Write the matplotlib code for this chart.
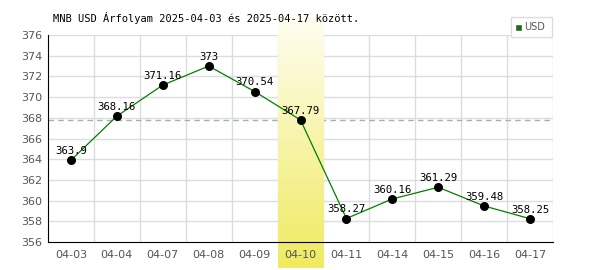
import numpy as np
import matplotlib.pyplot as plt
from matplotlib.colors import LinearSegmentedColormap

dates = ["04-03", "04-04", "04-07", "04-08", "04-09", "04-10",
         "04-11", "04-14", "04-15", "04-16", "04-17"]
usd = [363.9, 368.16, 371.16, 373, 370.54, 367.79,
       358.27, 360.16, 361.29, 359.48, 358.25]
labels = ["363.9", "368.16", "371.16", "373", "370.54", "367.79",
          "358.27", "360.16", "361.29", "359.48", "358.25"]
highlight = 5
title = "MNB USD Árfolyam 2025-04-03 és 2025-04-17 között."

fig = plt.figure(figsize=(6, 2.7), dpi=100)
ax = fig.add_axes([48 / 600, 1 - 242 / 270, 505 / 600, 207 / 270])

x = np.arange(len(dates))
ax.set_xlim(-0.5, len(dates) - 0.5)
ax.set_ylim(356, 376)

# gradient band over the grid for the highlighted day
cmap = LinearSegmentedColormap.from_list("band", ["#fefef2", "#f0ea60"])
grad = np.linspace(0, 1, 256).reshape(-1, 1)
ax.imshow(grad, cmap=cmap, aspect="auto", origin="upper",
          extent=(highlight - 0.5, highlight + 0.5, 356 - 26 / 10.35, 376 + 18 / 10.35),
          clip_on=False, zorder=2.2)

for v in np.arange(358, 377, 2):
    ax.axhline(v, color="#dddddd", lw=1, zorder=1)
for i in range(len(dates)):
    ax.axvline(i + 0.5, color="#dddddd", lw=1, zorder=1)

ax.axhline(usd[highlight], color="#99bb99", lw=1, ls=(0, (4, 3)), zorder=2)

ax.plot(x, usd, color="#008000", lw=0.9, zorder=3, label="USD")
ax.scatter(x, usd, s=30, color="black", zorder=4)
for xi, yi, t in zip(x, usd, labels):
    ax.text(xi, yi + 0.4, t, ha="center", va="bottom", fontsize=7.7,
            family="DejaVu Sans Mono", color="black", zorder=5)

ax.set_xticks(x)
ax.set_xticklabels(dates)
ax.set_yticks(np.arange(356, 377, 2))
ax.tick_params(length=0, labelsize=8, labelcolor="#555555", pad=6)
ax.tick_params(axis="y", pad=4)
ax.xaxis.set_zorder(7)
ax.yaxis.set_zorder(7)
for s in ["top", "right"]:
    ax.spines[s].set_visible(False)
ax.spines["left"].set_color("black")
ax.spines["bottom"].set_color("black")
ax.spines["left"].set_zorder(6)
ax.spines["bottom"].set_zorder(6)

fig.text(53 / 600, 1 - 18 / 270, title, family="DejaVu Sans Mono",
         fontsize=7.5, va="center", ha="left")

# legend box
fig.patches.append(plt.Rectangle((511 / 600, 1 - 37 / 270), 41 / 600, 20 / 270,
                                 transform=fig.transFigure, facecolor="white",
                                 edgecolor="#dddddd", lw=1))
fig.patches.append(plt.Rectangle((516 / 600, 1 - 30 / 270), 5 / 600, 5 / 270,
                                 transform=fig.transFigure, facecolor="#008000",
                                 edgecolor="#555555", lw=0.5))
fig.text(524 / 600, 1 - 27 / 270, "USD", fontsize=7, color="#555555",
         va="center", ha="left")

fig.savefig("out.png", dpi=100)
